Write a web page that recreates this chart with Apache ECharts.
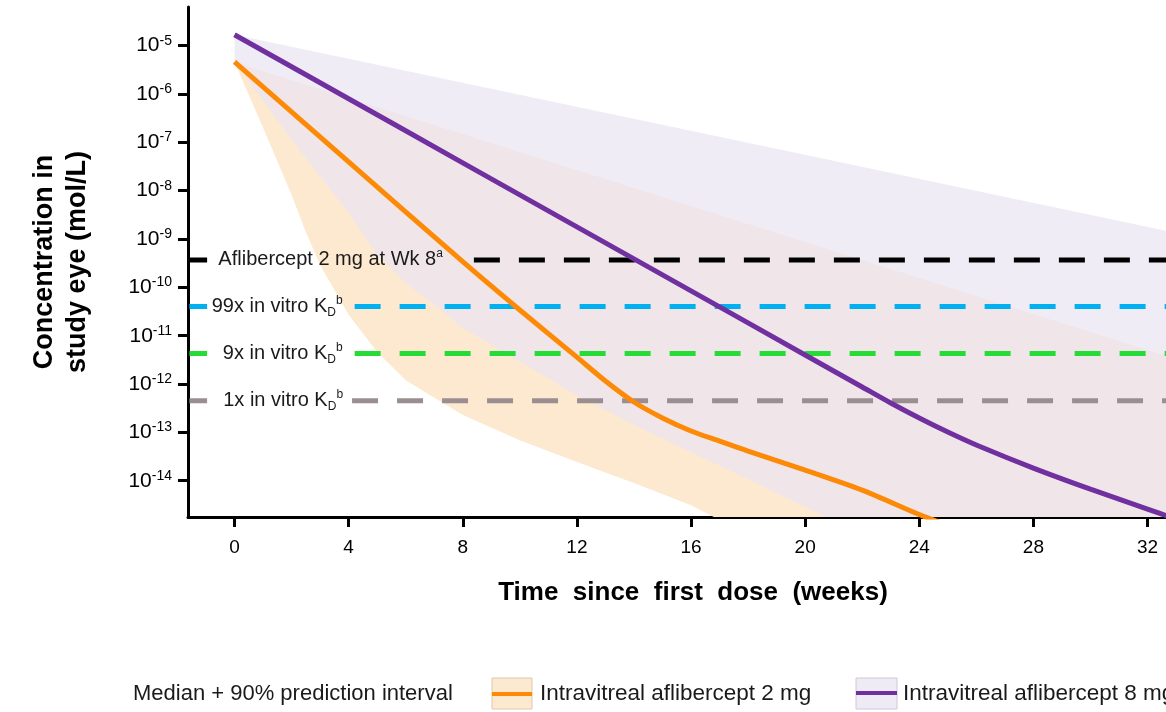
<!DOCTYPE html>
<html>
<head>
<meta charset="utf-8">
<script src="https://cdn.jsdelivr.net/npm/echarts@6/dist/echarts.min.js"></script>
<style>
  html, body { margin: 0; padding: 0; background: #fff; }
  #chart { width: 1166px; height: 712px; }
</style>
</head>
<body>
<div id="chart"></div>
<script>
// ---- Data -------------------------------------------------------------
// Axis ticks
const weekTicks = [0, 4, 8, 12, 16, 20, 24, 28, 32];
const concTickExponents = [-14, -13, -12, -11, -10, -9, -8, -7, -6, -5];

// Median concentration in study eye (mol/L), intravitreal aflibercept 2 mg
const median2mgWeeks = [0, 4, 8, 10, 12, 13, 14, 15, 16, 17, 18, 20, 22, 24, 25];
const median2mgConc = [4.6e-6, 3.95e-8, 3.4e-10, 3.4e-11, 3.6e-12, 1.16e-12, 4.26e-13,
  1.99e-13, 1.07e-13, 6.6e-14, 4.1e-14, 1.66e-14, 6.4e-15, 2.0e-15, 1.2e-15];

// 90% prediction interval, 2 mg
const upper2mgWeeks = [0, 36];
const upper2mgConc = [4.6e-6, 9.1e-13];
const lower2mgWeeks = [0, 1, 2, 2.5, 3, 4, 5, 6, 8, 10, 12, 14, 16, 17];
const lower2mgConc = [4.6e-6, 2.0e-7, 8.2e-9, 1.4e-9, 2.9e-10, 2.7e-11, 4.6e-12,
  1.2e-12, 2.3e-13, 6.9e-14, 2.44e-14, 9.0e-15, 3.1e-15, 1.55e-15];

// Median concentration, intravitreal aflibercept 8 mg
const median8mgWeeks = [0, 4, 8, 12, 16, 20, 22, 23, 24, 25, 26, 28, 30, 32, 33];
const median8mgConc = [1.68e-5, 8.0e-7, 3.77e-8, 1.78e-9, 8.45e-11, 4.0e-12, 8.7e-13,
  4.06e-13, 1.99e-13, 1.02e-13, 5.5e-14, 1.83e-14, 6.7e-15, 2.6e-15, 1.6e-15];

// 90% prediction interval, 8 mg
const upper8mgWeeks = [0, 36];
const upper8mgConc = [1.68e-5, 5.7e-10];
const lower8mgWeeks = [0, 2, 4, 5, 6, 8, 10, 12, 14, 16, 18, 20, 21];
const lower8mgConc = [4.6e-6, 1.13e-7, 3.5e-9, 4.7e-10, 1.24e-10, 1.45e-11, 2.9e-12,
  5.9e-13, 1.42e-13, 3.9e-14, 1.08e-14, 2.85e-15, 1.47e-15];

// Reference concentrations (mol/L)
const refNames = ['Aflibercept 2 mg at Wk 8', '99x in vitro K', '9x in vitro K', '1x in vitro K'];
const refSuperscripts = ['a', 'b', 'b', 'b'];
const refHasSubscript = [false, true, true, true];
const refConc = [3.7e-10, 4.0e-11, 4.3e-12, 4.5e-13];

// ---- Styling / layout ---------------------------------------------------
const FONT = "'Liberation Sans', Arial, Helvetica, sans-serif";
const TEXT = '#1a1a1a';
const ORANGE = '#fd8a07';
const PURPLE = '#7030a0';
const refColors = ['#000000', '#00b0f0', '#24dc35', '#9b8e91'];
const refDashStartWeeks = [8.39, 4.21, 4.21, 4.12];
const refLabelGap = [31, 12, 12, 9];
const keyStartWeeks = -1.58, keyEndWeeks = -0.96;

const X_MIN = -1.63, X_MAX = 33.77;
const Y_MIN = -14.75, Y_MAX = -4.2;

const lg = v => Math.log10(v);
const pairs = (w, c) => w.map((x, i) => [x, lg(c[i])]);

// Shaded interval: upper bound forward, then down below the plot floor
// (clipped away) and back along the lower bound.
function bandSeries(upW, upC, loW, loC, fill, z) {
  return {
    type: 'custom',
    silent: true,
    clip: true,
    z: z,
    data: [[upW[0], lg(upC[0])]],
    renderItem: function (params, api) {
      const pts = [];
      for (let i = 0; i < upW.length; i++) pts.push(api.coord([upW[i], lg(upC[i])]));
      pts.push(api.coord([upW[upW.length - 1], Y_MIN - 2]));
      pts.push(api.coord([loW[loW.length - 1], Y_MIN - 2]));
      for (let i = loW.length - 1; i >= 0; i--) pts.push(api.coord([loW[i], lg(loC[i])]));
      return { type: 'polygon', shape: { points: pts }, style: { fill: fill, stroke: null } };
    }
  };
}

const labelRich = {
  t: { fontSize: 20, lineHeight: 24, color: TEXT, fontFamily: FONT },
  sub: { fontSize: 12, lineHeight: 14, verticalAlign: 'bottom', color: TEXT, fontFamily: FONT },
  sup: { fontSize: 12, lineHeight: 14, verticalAlign: 'top', color: TEXT, fontFamily: FONT }
};

const series = [
  bandSeries(upper2mgWeeks, upper2mgConc, lower2mgWeeks, lower2mgConc, '#fde9cf', 1),
  bandSeries(upper8mgWeeks, upper8mgConc, lower8mgWeeks, lower8mgConc, 'rgba(235,229,243,0.74)', 2)
];

refConc.forEach((c, i) => {
  const y = lg(c);
  const text = '{t|' + refNames[i] + '}' + (refHasSubscript[i] ? '{sub|D}' : '') + '{sup|' + refSuperscripts[i] + '}';
  // key segment next to the axis
  series.push({
    type: 'line', silent: true, z: 3, showSymbol: false, animation: false,
    data: [[keyStartWeeks, y], [keyEndWeeks, y]],
    lineStyle: { color: refColors[i], width: 5, cap: 'butt' }
  });
  // dashed reference line with its label
  series.push({
    type: 'line', silent: true, z: 3, animation: false,
    symbol: 'circle', symbolSize: 0, showSymbol: true,
    itemStyle: { color: refColors[i] },
    data: [
      { value: [refDashStartWeeks[i], y],
        label: { show: true, position: 'left', distance: refLabelGap[i], formatter: text, rich: labelRich } },
      [X_MAX, y]
    ],
    lineStyle: { color: refColors[i], width: 5, type: [26, 19], cap: 'butt' }
  });
});

series.push({
  type: 'line', name: 'Intravitreal aflibercept 2 mg', silent: true, z: 4, smooth: 0.3,
  showSymbol: false, clip: true,
  data: pairs(median2mgWeeks, median2mgConc),
  lineStyle: { color: ORANGE, width: 5 }
});
series.push({
  type: 'line', name: 'Intravitreal aflibercept 8 mg', silent: true, z: 4, smooth: 0.3,
  showSymbol: false, clip: true,
  data: pairs(median8mgWeeks, median8mgConc),
  lineStyle: { color: PURPLE, width: 5 }
});

const option = {
  animation: false,
  textStyle: { fontFamily: FONT },
  grid: { left: 188, top: 7, right: -32, bottom: 195, outerBoundsMode: 'none', containLabel: false },
  xAxis: {
    type: 'value', min: X_MIN, max: X_MAX,
    name: 'Time  since  first  dose  (weeks)',
    nameLocation: 'middle', nameGap: 63,
    nameTextStyle: { fontSize: 26, fontWeight: 'bold', color: '#000', fontFamily: FONT },
    axisLine: { onZero: false, lineStyle: { color: '#000', width: 3 } },
    axisTick: { show: true, length: 10, lineStyle: { color: '#000', width: 3 }, customValues: weekTicks },
    axisLabel: { customValues: weekTicks, fontSize: 19, color: '#000', margin: 21, fontFamily: FONT },
    splitLine: { show: false }
  },
  yAxis: {
    type: 'value', min: Y_MIN, max: Y_MAX,
    name: 'Concentration in\nstudy eye (mol/L)',
    nameLocation: 'middle', nameRotate: 90, nameGap: 94,
    nameTextStyle: { fontSize: 27, fontWeight: 'bold', color: '#000', lineHeight: 33, fontFamily: FONT },
    axisLine: { show: true, onZero: false, lineStyle: { color: '#000', width: 3 } },
    axisTick: { show: true, length: 10, lineStyle: { color: '#000', width: 3 }, customValues: concTickExponents },
    axisLabel: {
      customValues: concTickExponents, margin: 16,
      formatter: v => '{b|10}{s|' + Math.round(v) + '}',
      rich: {
        b: { fontSize: 21, lineHeight: 24, color: '#000', fontFamily: FONT },
        s: { fontSize: 14, lineHeight: 19, verticalAlign: 'top', color: '#000', fontFamily: FONT }
      }
    },
    splitLine: { show: false }
  },
  graphic: [
    { type: 'text', x: 133, y: 694, style: { text: 'Median + 90% prediction interval', fontSize: 22, fontFamily: FONT, fill: TEXT, verticalAlign: 'middle' } },
    { type: 'rect', shape: { x: 492, y: 678, width: 40, height: 31 }, style: { fill: '#fde9cf', stroke: '#d9c8b3', lineWidth: 1 } },
    { type: 'line', shape: { x1: 492, y1: 694, x2: 532, y2: 694 }, style: { stroke: ORANGE, lineWidth: 4 } },
    { type: 'text', x: 540, y: 694, style: { text: 'Intravitreal aflibercept 2 mg', fontSize: 22.5, fontFamily: FONT, fill: TEXT, verticalAlign: 'middle' } },
    { type: 'rect', shape: { x: 856, y: 678, width: 41, height: 31 }, style: { fill: '#efebf5', stroke: '#cfc8da', lineWidth: 1 } },
    { type: 'line', shape: { x1: 856, y1: 693, x2: 897, y2: 693 }, style: { stroke: PURPLE, lineWidth: 4 } },
    { type: 'text', x: 903, y: 694, style: { text: 'Intravitreal aflibercept 8 mg', fontSize: 22.5, fontFamily: FONT, fill: TEXT, verticalAlign: 'middle' } }
  ],
  series: series
};

const chart = echarts.init(document.getElementById('chart'), null, { renderer: 'canvas' });
chart.setOption(option);
</script>
</body>
</html>
